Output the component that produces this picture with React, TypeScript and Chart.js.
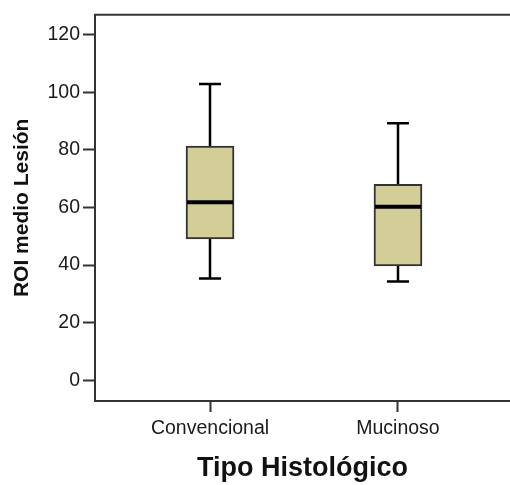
import React, { useEffect, useRef } from "react";
import { Chart, registerables } from "chart.js";

Chart.register(...registerables);

const categories = ["Convencional", "Mucinoso"];
const whiskerMin = [35.3, 34.3];
const q1 = [49.1, 39.7];
const medians = [61.8, 60.2];
const q3 = [81.3, 68.0];
const whiskerMax = [102.8, 89.2];
const yTicks = [0, 20, 40, 60, 80, 100, 120];

const FONT = "'Liberation Sans', Arial, sans-serif";

const boxPlugin = {
  id: "boxExtras",
  beforeDatasetsDraw(chart: any) {
    const { ctx, scales } = chart;
    const xs = scales.x, ys = scales.y;
    ctx.save();
    ctx.strokeStyle = "#000";
    ctx.lineWidth = 2.5;
    categories.forEach((_, i) => {
      const x = Math.round(xs.getPixelForValue(i));
      const yMax = ys.getPixelForValue(whiskerMax[i]);
      const yMin = ys.getPixelForValue(whiskerMin[i]);
      const yQ3 = ys.getPixelForValue(q3[i]);
      const yQ1 = ys.getPixelForValue(q1[i]);
      ctx.beginPath();
      ctx.moveTo(x, yMax);
      ctx.lineTo(x, yQ3);
      ctx.moveTo(x, yQ1);
      ctx.lineTo(x, yMin);
      ctx.moveTo(x - 11, yMax);
      ctx.lineTo(x + 11, yMax);
      ctx.moveTo(x - 11, yMin);
      ctx.lineTo(x + 11, yMin);
      ctx.stroke();
    });
    ctx.restore();
  },
  afterDatasetsDraw(chart: any) {
    const { ctx, scales } = chart;
    const xs = scales.x, ys = scales.y;
    ctx.save();
    ctx.strokeStyle = "#000";
    ctx.lineWidth = 4;
    categories.forEach((_, i) => {
      const x = xs.getPixelForValue(i);
      const y = ys.getPixelForValue(medians[i]);
      ctx.beginPath();
      ctx.moveTo(x - 23, y);
      ctx.lineTo(x + 23, y);
      ctx.stroke();
    });
    ctx.restore();
  },
  afterDraw(chart: any) {
    const { ctx, chartArea } = chart;
    ctx.save();
    ctx.strokeStyle = "#333";
    ctx.lineWidth = 2;
    ctx.beginPath();
    ctx.moveTo(chartArea.left - 1, chartArea.top);
    ctx.lineTo(chartArea.right, chartArea.top);
    ctx.stroke();
    ctx.restore();
  },
};

export default function App() {
  const ref = useRef<HTMLCanvasElement>(null);
  useEffect(() => {
    if (!ref.current) return;
    const chart = new Chart(ref.current, {
      type: "bar",
      data: {
        datasets: [
          {
            data: categories.map((_, i) => ({ x: i, y: [q1[i], q3[i]] })) as any,
            backgroundColor: "#d3cd98",
            borderColor: "#333",
            borderWidth: 2,
            borderSkipped: false,
            barThickness: 48,
          },
        ],
      },
      options: {
        animation: false,
        responsive: false,
        layout: { padding: { left: 0, right: 0, top: 14, bottom: 0 } },
        plugins: { legend: { display: false }, tooltip: { enabled: false } },
        scales: {
          x: {
            type: "linear",
            offset: false,
            min: -0.612,
            max: 1.596,
            afterBuildTicks: (s: any) => {
              s.ticks = categories.map((_, i) => ({ value: i }));
            },
            afterFit: (s: any) => {
              s.height = 84;
            },
            ticks: {
              callback: (v: any) => categories[v],
              color: "#1a1a1a",
              font: { family: FONT, size: 19.5 },
              padding: 5,
              maxRotation: 0,
              autoSkip: false,
            },
            grid: {
              offset: false,
              drawOnChartArea: false,
              drawTicks: true,
              tickLength: 11,
              tickColor: "#333",
              tickWidth: 2,
            },
            border: { display: true, color: "#333", width: 2 },
            title: {
              display: true,
              text: "Tipo Histológico",
              color: "#111",
              font: { family: FONT, size: 27, weight: "bold", lineHeight: 1 },
              padding: { top: 0, bottom: 3 },
            },
          },
          y: {
            min: -7.2,
            max: 126.9,
            afterBuildTicks: (s: any) => {
              s.ticks = yTicks.map((v) => ({ value: v }));
            },
            afterFit: (s: any) => {
              s.width = 95;
            },
            ticks: {
              color: "#1a1a1a",
              font: { family: FONT, size: 19.5 },
              padding: 3,
            },
            grid: {
              drawOnChartArea: false,
              drawTicks: true,
              tickLength: 12,
              tickColor: "#333",
              tickWidth: 2,
            },
            border: { display: true, color: "#333", width: 2 },
            title: {
              display: true,
              text: "ROI medio Lesión",
              color: "#111",
              font: { family: FONT, size: 21, weight: "bold", lineHeight: 1 },
              padding: { top: 12, bottom: 0 },
            },
          },
        },
      },
      plugins: [boxPlugin],
    });
    return () => chart.destroy();
  }, []);
  return (
    <div style={{ position: "absolute", left: 0, top: 0, width: 510, height: 485, background: "#fff" }}>
      <canvas ref={ref} width={510} height={485} />
    </div>
  );
}
